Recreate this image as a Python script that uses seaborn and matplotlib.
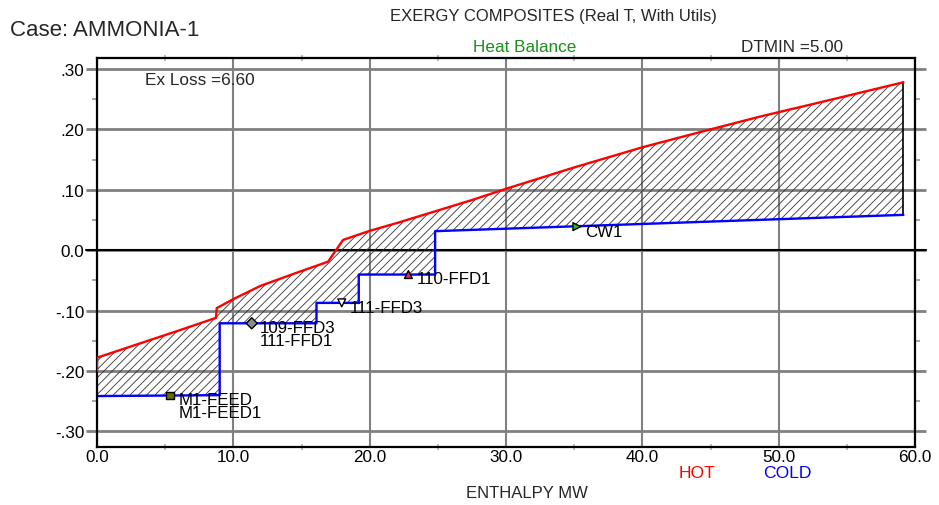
import numpy as np
import pandas as pd
import matplotlib
matplotlib.use('Agg')
import matplotlib.pyplot as plt
from matplotlib.ticker import FixedLocator, MultipleLocator
import seaborn as sns

# ---------------- data ----------------
hot_x = [0.0, 0.0, 2.0, 4.0, 6.0, 8.73, 8.78, 10.0, 12.0, 14.5, 16.95, 18.05,
         20.0, 22.0, 24.75, 27.5, 30.05, 35.0, 40.1, 45.0, 48.6, 54.0, 59.15]
hot_y = [-0.200, -0.178, -0.163, -0.148, -0.133, -0.112, -0.096, -0.081, -0.059,
         -0.0385, -0.019, 0.017, 0.032, 0.045, 0.064, 0.083, 0.102, 0.137, 0.171,
         0.200, 0.221, 0.250, 0.278]

cold_x = [0.0, 9.0, 9.0, 16.1, 16.1, 19.2, 19.2, 24.8, 24.8, 59.15]
cold_y = [-0.2415, -0.2400, -0.121, -0.121, -0.0872, -0.0872, -0.0403, -0.0403,
          0.0315, 0.0585]

stream_names = ['M1-FEED', '109-FFD3', '111-FFD3', '110-FFD1', 'CW1']
stream_sub = ['M1-FEED1', '111-FFD1', '', '', '']
stream_x = [5.36, 11.35, 17.95, 22.84, 35.2]
stream_y = [-0.2405, -0.121, -0.0872, -0.0403, 0.039]
stream_markers = ['s', 'D', 'v', '^', '>']
stream_colors = ['#6b6b00', '#8c8c8c', '#ffffff', '#e0207a', '#22bb22']

xticks = [0, 10, 20, 30, 40, 50, 60]
xtick_labels = ['0.0', '10.0', '20.0', '30.0', '40.0', '50.0', '60.0']
yticks = [-0.3, -0.2, -0.1, 0.0, 0.1, 0.2, 0.3]
ytick_labels = ['-.30', '-.20', '-.10', '0.0', '.10', '.20', '.30']

# ---------------- style ----------------
sns.set_style('white')
plt.rcParams['font.family'] = ['Liberation Sans', 'DejaVu Sans']
plt.rcParams['hatch.linewidth'] = 0.6

W, H = 939, 506
fig = plt.figure(figsize=(W / 100, H / 100), dpi=100)
ax = fig.add_axes([97 / W, 1 - 447.5 / H, (915 - 97) / W, (447.5 - 59.3) / H])

GRAY = '#808080'
LBL = 12.2

# hatched exergy-loss region
poly_x = np.concatenate([hot_x, cold_x[::-1]])
poly_y = np.concatenate([hot_y, cold_y[::-1]])
ax.fill(poly_x, poly_y, facecolor='none', edgecolor='#333333', linewidth=0,
        hatch='////', zorder=1.5)

# composite curves
sns.lineplot(x=hot_x, y=hot_y, sort=False, estimator=None, color='#ff0000',
             lw=1.7, ax=ax, zorder=7)
sns.lineplot(x=cold_x, y=cold_y, sort=False, estimator=None, color='#0000ff',
             lw=1.7, ax=ax, zorder=3)
# closing edge
ax.plot([hot_x[-1], cold_x[-1]], [hot_y[-1], cold_y[-1]], color='black', lw=1.2, zorder=2.5)

# stream markers
df = pd.DataFrame({'x': stream_x, 'y': stream_y, 'name': stream_names})
sns.scatterplot(data=df, x='x', y='y', hue='name', style='name',
                markers=dict(zip(stream_names, stream_markers)),
                palette=dict(zip(stream_names, stream_colors)),
                s=32, edgecolor='black', linewidth=1.0, legend=False, ax=ax, zorder=4)
for n, sub, x, y in zip(stream_names, stream_sub, stream_x, stream_y):
    ax.annotate(n, (x, y), xytext=(5.8, -3.2), textcoords='offset points',
                ha='left', va='center', fontsize=LBL, color='black', zorder=5)
    if sub:
        ax.annotate(sub, (x, y), xytext=(5.8, -12.4), textcoords='offset points',
                    ha='left', va='center', fontsize=LBL, color='black', zorder=5)

# axes
ax.set_xlim(0, 60)
ax.set_ylim(-0.325, 0.3177)
ax.xaxis.set_major_locator(FixedLocator(xticks))
ax.set_xticklabels(xtick_labels)
ax.yaxis.set_major_locator(FixedLocator(yticks))
ax.set_yticklabels(ytick_labels)
ax.xaxis.set_minor_locator(MultipleLocator(5))
ax.yaxis.set_minor_locator(MultipleLocator(0.05))
ax.set_xlabel('')
ax.set_ylabel('')

ax.set_axisbelow(True)
ax.yaxis.grid(True, which='major', color=GRAY, lw=2.0)
ax.xaxis.grid(True, which='major', color=GRAY, lw=1.5)
ax.axhline(0.0, xmin=-0.013, xmax=1.013, color='black', lw=1.5, clip_on=False, zorder=1)

ax.tick_params(axis='y', which='major', left=True, right=True, length=8, width=2,
               color=GRAY, pad=1, labelsize=12.3, labelcolor='black')
ax.tick_params(axis='y', which='minor', left=True, right=True, length=3.5, width=1.5,
               color='#a8a8a8')
ax.tick_params(axis='x', which='major', bottom=False, top=False, length=0, pad=1.5,
               labelsize=12.3, labelcolor='black')
ax.tick_params(axis='x', which='minor', bottom=True, top=True, direction='inout',
               length=5, width=1.2, color='#b0b0b0')

for s in ax.spines.values():
    s.set_color('black')
    s.set_linewidth(1.6)
    s.set_visible(True)
    s.set_zorder(6)

# ---------------- texts ----------------
def fx(px):
    return px / W

def fy(py):
    return 1 - py / H

fig.text(fx(10), fy(30), 'Case: AMMONIA-1', fontsize=16, ha='left', va='center')
fig.text(fx(553), fy(17), 'EXERGY COMPOSITES (Real T, With Utils)', fontsize=12,
         ha='center', va='center')
fig.text(fx(473), fy(48), 'Heat Balance', fontsize=12.3, color='#1a8f1a',
         ha='left', va='center')
fig.text(fx(741), fy(48), 'DTMIN =5.00', fontsize=12.3, ha='left', va='center')
fig.text(fx(145), fy(80.5), 'Ex Loss =6.60', fontsize=12.4, ha='left', va='center')
fig.text(fx(679), fy(473), 'HOT', fontsize=12.6, color='#ff0000', ha='left', va='center')
fig.text(fx(763), fy(473), 'COLD', fontsize=12.6, color='#0000ff', ha='left', va='center')
fig.text(fx(527), fy(494), 'ENTHALPY MW', fontsize=12, ha='center', va='center')

fig.savefig('out.png', dpi=100)
